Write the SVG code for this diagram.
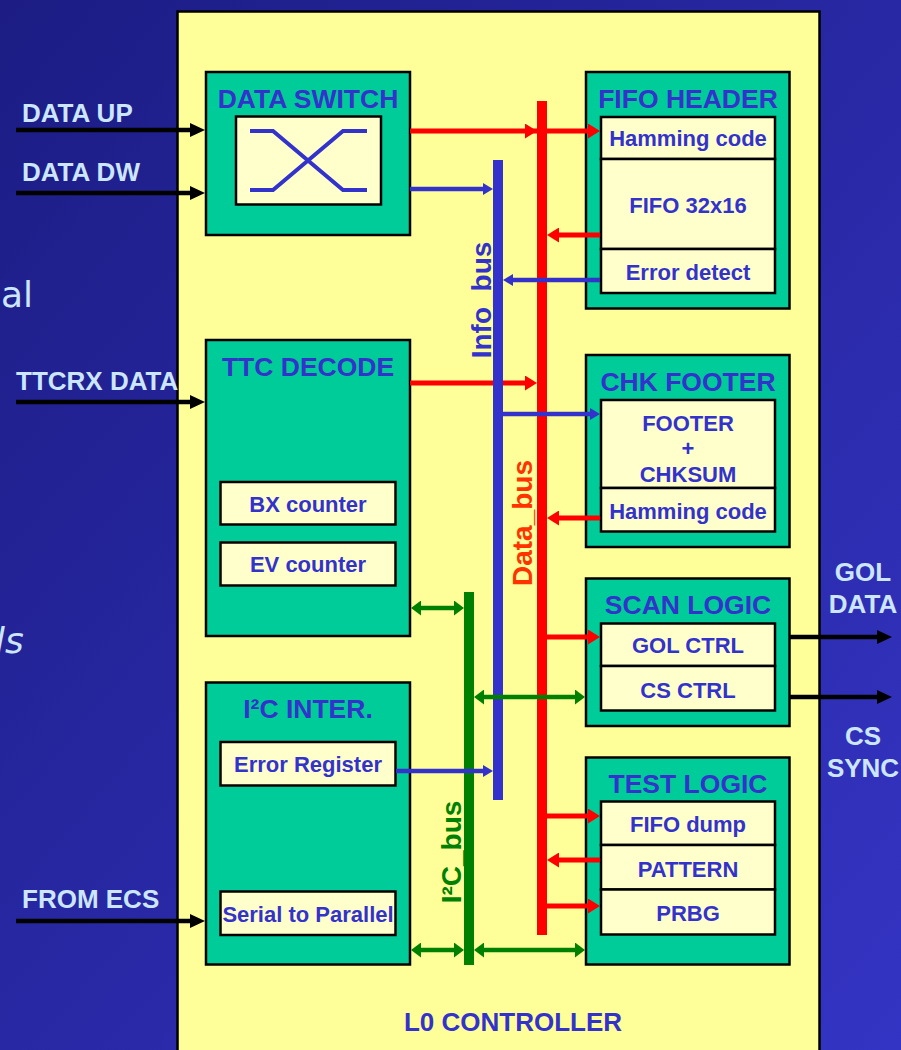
<svg xmlns="http://www.w3.org/2000/svg" width="901" height="1050" viewBox="0 0 901 1050">
<defs>
<linearGradient id="bg" x1="0" y1="0" x2="1" y2="1">
<stop offset="0" stop-color="#1c1c84"/>
<stop offset="1" stop-color="#3434c4"/>
</linearGradient>
<marker id="hk" markerUnits="userSpaceOnUse" markerWidth="15" markerHeight="14" refX="7" refY="7" orient="auto"><path d="M0,0 L15,7 L0,14 z" fill="#000"/></marker>
<marker id="hr" markerUnits="userSpaceOnUse" markerWidth="12" markerHeight="15" refX="5" refY="7.5" orient="auto"><path d="M0,0 L12,7.5 L0,15 z" fill="#ff0000"/></marker>
<marker id="hb" markerUnits="userSpaceOnUse" markerWidth="10" markerHeight="12" refX="4" refY="6" orient="auto"><path d="M0,0 L10,6 L0,12 z" fill="#3333cc"/></marker>
<marker id="hg" markerUnits="userSpaceOnUse" markerWidth="10" markerHeight="15" refX="4" refY="7.5" orient="auto-start-reverse"><path d="M0,0 L10,7.5 L0,15 z" fill="#008000"/></marker>
</defs>
<style>
text{font-family:"Liberation Sans",Arial,sans-serif;font-weight:bold}
.bgt{font-family:"DejaVu Sans",sans-serif;font-weight:normal;font-size:36px;fill:#cce6ff}
.box{fill:#00cc99;stroke:#000;stroke-width:2.5}
.cell{fill:#ffffcc;stroke:#000;stroke-width:2.5}
.title{font-size:26.5px;fill:#3333cc;text-anchor:middle}
.lbl{font-size:22px;fill:#3333cc;text-anchor:middle}
.ext{font-size:26px;fill:#cce6ff}
.extc{font-size:26px;fill:#cce6ff;text-anchor:middle}
.bus{font-size:28px;text-anchor:middle}
.bk{stroke:#000;stroke-width:4.5;fill:none;marker-end:url(#hk)}
.rd{stroke:#ff0000;stroke-width:5;fill:none;marker-end:url(#hr)}
.bl{stroke:#3333cc;stroke-width:4.5;fill:none;marker-end:url(#hb)}
.gr{stroke:#008000;stroke-width:4.5;fill:none;marker-start:url(#hg);marker-end:url(#hg)}
.sw{stroke:#3333cc;stroke-width:4;fill:none}
</style>
<rect x="0" y="0" width="901" height="1050" fill="url(#bg)"/>
<text class="bgt" x="1" y="307">al</text>
<text class="bgt" x="-5" y="653" font-style="italic">ls</text>
<g id="l0-controller">
<rect x="177.5" y="11.5" width="642" height="1050" fill="#ffff99" stroke="#000" stroke-width="2.5"/>
<text class="title" x="513" y="1031" style="font-size:26px">L0 CONTROLLER</text>
</g>
<g id="external-labels">
<text class="ext" x="22" y="122">DATA UP</text>
<text class="ext" x="22" y="181">DATA DW</text>
<text class="ext" x="16" y="390">TTCRX DATA</text>
<text class="ext" x="22" y="908">FROM ECS</text>
<text class="extc" x="863" y="581">GOL</text>
<text class="extc" x="863" y="613">DATA</text>
<text class="extc" x="863" y="745">CS</text>
<text class="extc" x="863" y="777">SYNC</text>
</g>
<g id="data-switch">
<rect class="box" x="206" y="72" width="204" height="163"/>
<text class="title" x="308" y="108">DATA SWITCH</text>
<rect class="cell" x="236" y="116.5" width="145" height="88"/>
<path class="sw" d="M250,131 H273 L343,190 H367"/>
<path class="sw" d="M250,190 H273 L343,131 H367"/>
</g>
<g id="fifo-header">
<rect class="box" x="586" y="72" width="203.5" height="236.5"/>
<text class="title" x="688" y="108">FIFO HEADER</text>
<rect class="cell" x="601" y="117" width="174" height="42"/>
<rect class="cell" x="601" y="159" width="174" height="90"/>
<rect class="cell" x="601" y="249" width="174" height="44"/>
<text class="lbl" x="688" y="146">Hamming code</text>
<text class="lbl" x="688" y="213">FIFO 32x16</text>
<text class="lbl" x="688" y="280">Error detect</text>
</g>
<g id="ttc-decode">
<rect class="box" x="206" y="340" width="204" height="296"/>
<text class="title" x="308" y="376">TTC DECODE</text>
<rect class="cell" x="220.5" y="482" width="175" height="42.5"/>
<rect class="cell" x="220.5" y="542.5" width="175" height="43"/>
<text class="lbl" x="308" y="512">BX counter</text>
<text class="lbl" x="308" y="572">EV counter</text>
</g>
<g id="chk-footer">
<rect class="box" x="586" y="355" width="203.5" height="192"/>
<text class="title" x="688" y="391">CHK FOOTER</text>
<rect class="cell" x="601" y="400" width="174" height="88"/>
<rect class="cell" x="601" y="488" width="174" height="43.5"/>
<text class="lbl" x="688" y="431">FOOTER</text>
<text class="lbl" x="688" y="456">+</text>
<text class="lbl" x="688" y="482">CHKSUM</text>
<text class="lbl" x="688" y="519">Hamming code</text>
</g>
<g id="scan-logic">
<rect class="box" x="586" y="578.5" width="203.5" height="147.5"/>
<text class="title" x="688" y="614">SCAN LOGIC</text>
<rect class="cell" x="601" y="623.5" width="174" height="42.5"/>
<rect class="cell" x="601" y="666" width="174" height="44.5"/>
<text class="lbl" x="688" y="653">GOL CTRL</text>
<text class="lbl" x="688" y="698">CS CTRL</text>
</g>
<g id="i2c-inter">
<rect class="box" x="206" y="682.5" width="204" height="282"/>
<text class="title" x="308" y="718">I²C INTER.</text>
<rect class="cell" x="220.5" y="742" width="175" height="43.5"/>
<rect class="cell" x="220.5" y="891.5" width="175" height="43.5"/>
<text class="lbl" x="308" y="772">Error Register</text>
<text class="lbl" x="308" y="922">Serial to Parallel</text>
</g>
<g id="test-logic">
<rect class="box" x="586" y="757.5" width="203.5" height="207"/>
<text class="title" x="688" y="793">TEST LOGIC</text>
<rect class="cell" x="601" y="801.5" width="174" height="43.5"/>
<rect class="cell" x="601" y="845" width="174" height="44.5"/>
<rect class="cell" x="601" y="889.5" width="174" height="45"/>
<text class="lbl" x="688" y="832">FIFO dump</text>
<text class="lbl" x="688" y="877">PATTERN</text>
<text class="lbl" x="688" y="921">PRBG</text>
</g>
<g id="connectors">
<path class="bk" d="M16,130 H197"/>
<path class="bk" d="M16,193 H197"/>
<path class="bk" d="M16,402 H197"/>
<path class="bk" d="M16,921 H197"/>
<path class="bk" d="M790,637 H884"/>
<path class="bk" d="M790,697 H884"/>
<path class="rd" d="M410,383 H530"/>
<rect id="info-bus" x="493" y="160" width="10" height="640" fill="#3333cc"/>
<rect id="data-bus" x="537" y="101" width="10" height="834" fill="#ff0000"/>
<rect id="i2c-bus" x="464" y="592" width="10" height="373" fill="#008000"/>
<path class="rd" d="M410,131 H530"/>
<path class="rd" d="M530,131 H593"/>
<path class="rd" d="M600,235 H554"/>
<path class="rd" d="M600,518 H554"/>
<path class="rd" d="M547,637 H593"/>
<path class="rd" d="M547,816 H593"/>
<path class="rd" d="M600,860 H554"/>
<path class="rd" d="M547,906 H593"/>
<path class="bl" d="M410,189 H487"/>
<path class="bl" d="M600,280 H509"/>
<path class="bl" d="M503,414 H594"/>
<path class="bl" d="M396,771 H487"/>
<path class="gr" d="M417,608 H458"/>
<path class="gr" d="M480,697 H579"/>
<path class="gr" d="M417,950 H458"/>
<path class="gr" d="M480,950 H579"/>
<text class="bus" transform="translate(491,300) rotate(-90)" fill="#3333cc">Info_bus</text>
<text class="bus" transform="translate(532,523) rotate(-90)" fill="#ff3300">Data_bus</text>
<text class="bus" transform="translate(461,852) rotate(-90)" fill="#008000">I²C_bus</text>
</g>
</svg>
